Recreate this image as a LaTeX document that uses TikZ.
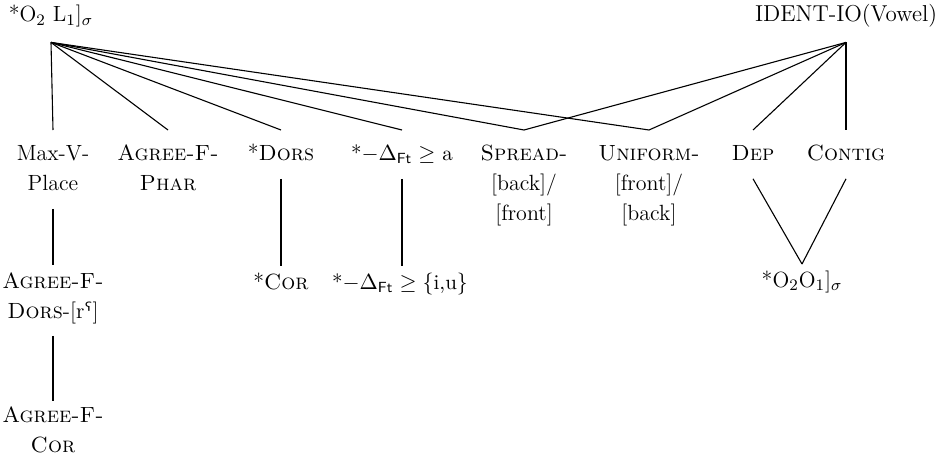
\documentclass[tikz,border=0pt]{standalone}
\usepackage{fontspec}
\newfontfamily\ipa{DejaVu Sans}
\newcommand\mystrut{\rule[-4.5pt]{0pt}{15pt}}
\begin{document}
\begin{tikzpicture}[x=0.5pt,y=-0.5pt,
  every node/.style={font=\fontsize{11}{15}\selectfont, inner xsep=0pt, align=center},
  mathsize/.style={font=\fontsize{10.5}{15}\selectfont},
  topn/.style={anchor=base, inner ysep=5.5pt},
  rowtwo/.style={anchor=north, inner ysep=4.5pt},
  rowthree/.style={anchor=north, inner ysep=1pt},
  rowfour/.style={anchor=north, inner ysep=0pt},
  link/.style={line width=0.55pt, black}]
\useasboundingbox (0,0) rectangle (940,465);
% top
\node[topn] (tl) at (51,22) {\mystrut*O$_2$ L$_1$]$_\sigma$};
\node[topn, font=\fontsize{11.5}{15}\selectfont] (id) at (846,22) {\mystrut IDENT-IO(Vowel)};
% second row
\node[rowtwo] (max) at (53,130) {\mystrut Max-V-\\\mystrut Place};
\node[rowtwo] (phar) at (168,130) {\mystrut\textsc{Agree-F-}\\\mystrut\textsc{Phar}};
\node[rowtwo] (dors) at (281,130) {\mystrut*\textsc{Dors}};
\node[rowtwo, mathsize] (dft) at (402,130) {\mystrut*$-\Delta_{\mathsf{Ft}}\geq$ a};
\node[rowtwo] (spr) at (524,130) {\mystrut\textsc{Spread-}\\\mystrut[back]/\\\mystrut[front]};
\node[rowtwo] (uni) at (649,130) {\mystrut\textsc{Uniform-}\\\mystrut[front]/\\\mystrut[back]};
\node[rowtwo] (dep) at (753,130) {\mystrut\textsc{Dep}};
\node[rowtwo] (con) at (846,130) {\mystrut\textsc{Contig}};
% third row
\node[rowthree] (agd) at (53,265) {\mystrut\textsc{Agree-F-}\\\mystrut\textsc{Dors}-[r{\ipa ˤ}]};
\node[rowthree] (cor) at (281,266) {\mystrut*\textsc{Cor}};
\node[rowthree, mathsize] (dft2) at (400,266) {\mystrut*$-\Delta_{\mathsf{Ft}}\geq\{$i,u$\}$};
\node[rowthree] (oo) at (802,264) {\mystrut*O$_2$O$_1$]$_\sigma$};
% fourth row
\node[rowfour] (agc) at (53,401) {\mystrut\textsc{Agree-F-}\\\mystrut\textsc{Cor}};
% connectors
\foreach \t in {max,phar,dors,dft,spr,uni}
  \draw[link] (tl.south) -- (\t.north);
\foreach \t in {spr,uni,dep,con}
  \draw[link] (id.south) -- (\t.north);
\draw[link] (max.south) -- (agd.north);
\draw[link] (dors.south) -- (cor.north);
\draw[link] (dft.south) -- (dft2.north -| dft.south);
\draw[link] (dep.south) -- (oo.north);
\draw[link] (con.south) -- (oo.north);
\draw[link, shorten <=3pt] (agd.south) -- (agc.north);
\end{tikzpicture}
\end{document}
